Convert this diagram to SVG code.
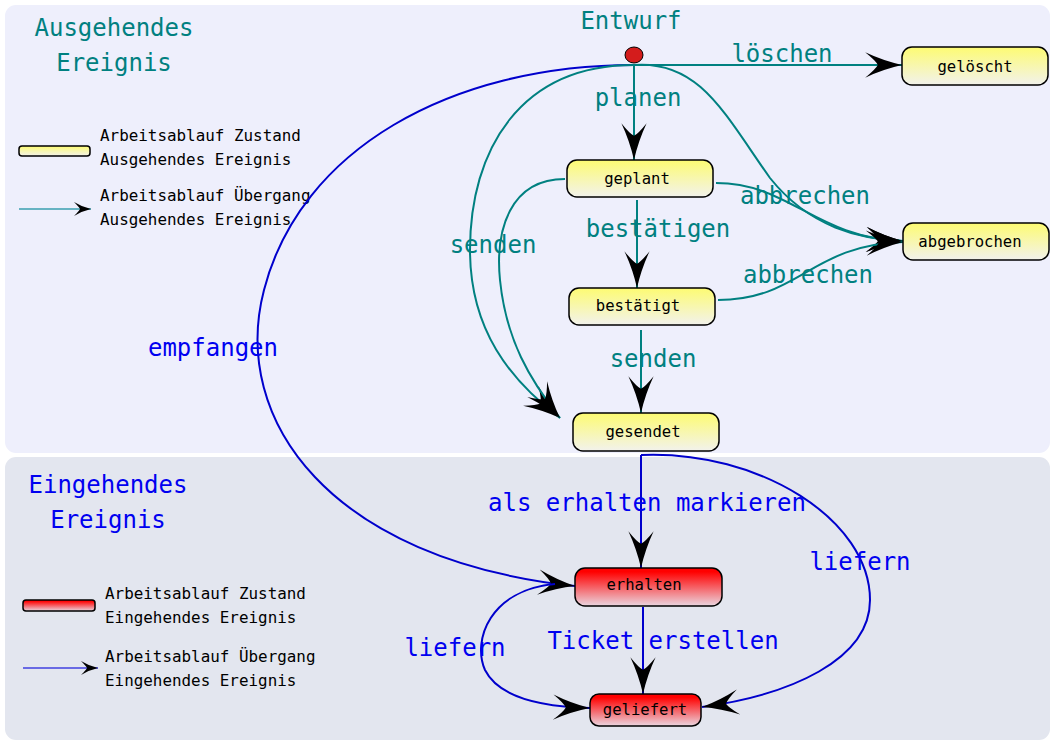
<svg xmlns="http://www.w3.org/2000/svg" width="1052" height="744" viewBox="0 0 1052 744">
<style>
.big{font-family:"DejaVu Sans Mono","Liberation Mono",monospace;font-size:24px;text-anchor:middle}
.out{fill:#008080}
.in{fill:#0000f0}
.lbl{font-family:"DejaVu Sans Mono","Liberation Mono",monospace;font-size:15.6px;fill:#000;text-anchor:middle}
.leg{font-family:"DejaVu Sans Mono","Liberation Mono",monospace;font-size:15.9px;fill:#000}
.ys{fill:url(#gy);stroke:#000;stroke-width:1.5}
.rs{fill:url(#gr);stroke:#000;stroke-width:1.5}
.te{fill:none;stroke:#008080;stroke-width:2}
.be{fill:none;stroke:#0000cc;stroke-width:2}
</style>
<defs>
<linearGradient id="gy" x1="0" y1="0" x2="0" y2="1"><stop offset="0" stop-color="#fdfb72"/><stop offset="1" stop-color="#f2f2ec"/></linearGradient>
<linearGradient id="gr" x1="0" y1="0" x2="0" y2="1"><stop offset="0.1" stop-color="#ff0000"/><stop offset="1" stop-color="#ead6e0"/></linearGradient>
<marker id="ah" markerUnits="userSpaceOnUse" orient="auto" markerWidth="40" markerHeight="30" refX="0" refY="0" viewBox="-36 -14 38 28" overflow="visible">
<path d="M0,0 Q-18,-4 -35,-12 Q-25,-4 -23,0 Q-25,4 -35,12 Q-18,4 0,0 Z" fill="#000"/>
</marker>
<marker id="ahs" markerUnits="userSpaceOnUse" orient="auto" markerWidth="20" markerHeight="16" refX="0" refY="0" viewBox="-18 -8 20 16" overflow="visible">
<path d="M0,0 Q-9,-2 -17,-7 Q-12,-2 -11,0 Q-12,2 -17,7 Q-9,2 0,0 Z" fill="#000"/>
</marker>
</defs>
<g id="panels">
<rect x="5" y="5" width="1045" height="448" rx="11" fill="#eeeffc"/>
<rect x="5" y="457" width="1045" height="283" rx="11" fill="#e3e6ef"/>
</g>
<g id="titles">
<text class="big out" x="114" y="36">Ausgehendes</text>
<text class="big out" x="114" y="71">Ereignis</text>
<text class="big in" x="108" y="493">Eingehendes</text>
<text class="big in" x="108" y="528">Ereignis</text>
</g>
<g id="legend">
<rect x="19" y="146" width="71" height="10" rx="3" class="ys" stroke-width="1"/>
<text class="leg" x="100" y="141">Arbeitsablauf Zustand</text>
<text class="leg" x="100" y="165">Ausgehendes Ereignis</text>
<line x1="19" y1="209" x2="91" y2="209" stroke="#3a9fb0" stroke-width="1.5" marker-end="url(#ahs)"/>
<text class="leg" x="100" y="201">Arbeitsablauf Übergang</text>
<text class="leg" x="100" y="225">Ausgehendes Ereignis</text>
<rect x="23" y="600" width="72" height="11" rx="3" class="rs" stroke-width="1"/>
<text class="leg" x="105" y="599">Arbeitsablauf Zustand</text>
<text class="leg" x="105" y="623">Eingehendes Ereignis</text>
<line x1="23" y1="668" x2="98" y2="668" stroke="#4040e0" stroke-width="1.5" marker-end="url(#ahs)"/>
<text class="leg" x="105" y="662">Arbeitsablauf Übergang</text>
<text class="leg" x="105" y="686">Eingehendes Ereignis</text>
</g>
<g id="connectors">
<path class="be" d="M634,65 C450,65 300,150 264,290 C230,420 330,560 575,586" marker-end="url(#ah)"/>
<path class="te" d="M634,65 L902,65" marker-end="url(#ah)"/>
<path class="te" d="M634,65 L634,160" marker-end="url(#ah)"/>
<path class="te" d="M634,65 C700,60 725,115 770,178 C810,228 860,239 903,241" marker-end="url(#ah)"/>
<path class="te" d="M716,183 C790,183 815,238 903,241" marker-end="url(#ah)"/>
<path class="te" d="M718,300 C800,300 810,245 903,242" marker-end="url(#ah)"/>
<path class="te" d="M637,200 L637,288" marker-end="url(#ah)"/>
<path class="te" d="M641,330 L641,413" marker-end="url(#ah)"/>
<path class="te" d="M634,65 C520,65 470,150 470,250 C470,330 510,380 560,418" marker-end="url(#ah)"/>
<path class="te" d="M565,179 C510,179 495,230 500,280 C506,340 530,380 560,418" marker-end="url(#ah)"/>
<path class="be" d="M641,455 L641,568" marker-end="url(#ah)"/>
<path class="be" d="M641,455 C760,450 870,520 870,600 C870,660 790,695 702,707" marker-end="url(#ah)"/>
<path class="be" d="M643,607 L643,694" marker-end="url(#ah)"/>
<path class="be" d="M555,584 C490,590 472,640 485,670 C500,700 550,707 590,708" marker-end="url(#ah)"/>
</g>
<g id="edge-labels">
<text class="big out" x="782" y="62">löschen</text>
<text class="big out" x="638" y="106">planen</text>
<text class="big out" x="805" y="204">abbrechen</text>
<text class="big out" x="808" y="283">abbrechen</text>
<text class="big out" x="658" y="237">bestätigen</text>
<text class="big out" x="653" y="367">senden</text>
<text class="big out" x="493" y="253">senden</text>
<text class="big in" x="213" y="356">empfangen</text>
<text class="big in" x="647" y="511">als erhalten markieren</text>
<text class="big in" x="860" y="570">liefern</text>
<text class="big in" x="663" y="649">Ticket erstellen</text>
<text class="big in" x="455" y="656">liefern</text>
</g>
<g id="node-entwurf">
<text class="big out" x="631" y="29">Entwurf</text>
<ellipse cx="634" cy="55" rx="9" ry="8" fill="#d41c1c" stroke="#000" stroke-width="1"/>
</g>
<g id="node-geloescht"><rect x="902" y="47" width="146" height="38" rx="10" class="ys"/><text class="lbl" x="975" y="72">gelöscht</text></g>
<g id="node-geplant"><rect x="567" y="160" width="146" height="37" rx="10" class="ys"/><text class="lbl" x="637" y="184">geplant</text></g>
<g id="node-bestaetigt"><rect x="569" y="288" width="146" height="37" rx="10" class="ys"/><text class="lbl" x="638" y="311">bestätigt</text></g>
<g id="node-gesendet"><rect x="573" y="413" width="146" height="38" rx="10" class="ys"/><text class="lbl" x="643" y="437">gesendet</text></g>
<g id="node-abgebrochen"><rect x="903" y="223" width="146" height="37" rx="10" class="ys"/><text class="lbl" x="970" y="247">abgebrochen</text></g>
<g id="node-erhalten"><rect x="575" y="568" width="147" height="38" rx="10" class="rs"/><text class="lbl" x="644" y="590">erhalten</text></g>
<g id="node-geliefert"><rect x="590" y="694" width="111" height="32" rx="9" class="rs"/><text class="lbl" x="645" y="715">geliefert</text></g>
</svg>
